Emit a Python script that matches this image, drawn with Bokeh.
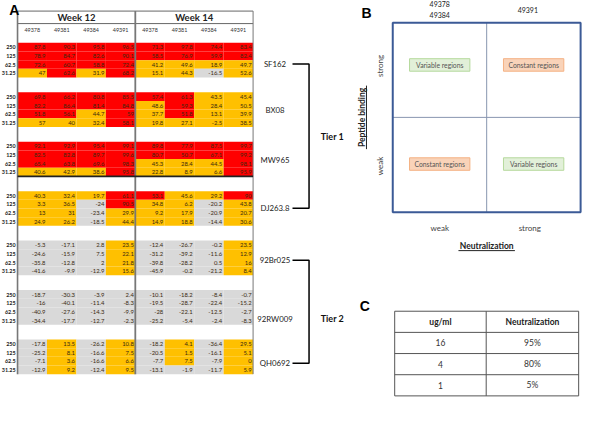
import math
from bokeh.plotting import figure
from bokeh.models import Range1d
from bokeh.core.properties import value
from bokeh.embed import file_html
from bokeh.resources import INLINE

# ---------------- data ----------------
strains = ["SF162", "BX08", "MW965", "DJ263.8", "92Br025", "92RW009", "QH0692"]
concs = ["250", "125", "62.5", "31.25"]
weeks = ["Week 12", "Week 14"]
sera = ["49378", "49381", "49384", "49391"]

sf162 = [[87.8, 90.3, 95.8, 96.5, 71.3, 97.8, 74.4, 83.4],
         [78.9, 84.7, 82.6, 90.1, 58.5, 76.9, 59.9, 82.4],
         [72.6, 60.7, 58.8, 72.4, 41.2, 49.6, 18.9, 49.7],
         [47, 62.6, 31.9, 68.2, 15.1, 44.3, -16.5, 52.6]]
sf162_lvl = ["RRRRRRRR", "RRRRRRRR", "RRRROOOO", "OROROOGO"]

bx08 = [[69.8, 66.2, 80.8, 85.5, 57.4, 61.3, 43.5, 45.4],
        [82.2, 86.4, 81.4, 84.8, 48.6, 59.3, 28.4, 50.5],
        [51.8, 56.1, 44.7, 59, 37.7, 51.8, 13.1, 39.9],
        [57, 40, 32.4, 58.1, 19.8, 27.1, -2.5, 38.5]]
bx08_lvl = ["RRRRRROO", "RRRROROO", "RRORORO O".replace(" ", ""), "OOOROOOO"]

mw965 = [[92.1, 92.9, 95.4, 99.1, 89.8, 77.9, 87.5, 99.7],
         [82.5, 82.8, 89.7, 99.6, 80.7, 50.7, 67.1, 99.2],
         [65.4, 63.8, 69.6, 98.3, 45.3, 28.4, 44.5, 98.1],
         [40.6, 42.9, 38.6, 95.8, 22.8, 8.9, 6.6, 95.9]]
mw965_lvl = ["RRRRRRRR", "RRRRRRRR", "RRRROOOR", "OOOROOOR"]

dj263 = [[40.3, 32.4, 19.7, 61.1, 53.1, 45.6, 29.2, 90],
         [3.3, 36.5, -24, 90.5, 34.8, 6.2, -20.2, 43.8],
         [13, 31, -23.4, 29.9, 9.2, 17.9, -20.9, 20.7],
         [24.9, 26.2, -18.5, 44.4, 14.9, 18.8, -14.4, 30.6]]
dj263_lvl = ["OOORROOR", "OOGROOGO", "OOGOOOGO", "OOGOOOGO"]

br025 = [[-5.3, -17.1, 2.8, 23.5, -12.4, -26.7, -0.2, 23.5],
         [-24.6, -15.9, 7.5, 22.1, -31.2, -39.2, -11.6, 12.9],
         [-35.8, -12.8, 2, 21.8, -39.8, -28.2, 0.5, 16],
         [-41.6, -9.9, -12.9, 15.6, -45.9, -0.2, -21.2, 8.4]]
br025_lvl = ["GGGOGGGO", "GGGOGGGO", "GGGOGGGO", "GGGOGGGO"]

rw009 = [[-18.7, -30.3, -3.9, 2.4, -10.1, -18.2, -8.4, -0.7],
         [-16, -40.1, -11.4, -8.3, -19.5, -28.7, -22.4, -15.2],
         [-40.9, -27.6, -14.3, -9.9, -28, -22.1, -12.5, -2.7],
         [-34.4, -17.7, -12.7, -2.3, -25.2, -5.4, -2.4, -8.3]]
rw009_lvl = ["GGGGGGGG", "GGGGGGGG", "GGGGGGGG", "GGGGGGGG"]

qh0692 = [[-17.8, 13.5, -26.2, 10.8, -18.2, 4.1, -36.4, 29.5],
          [-25.2, 8.1, -16.6, 7.5, -20.5, 1.5, -16.1, 5.1],
          [-7.1, 3.6, -16.6, 6.6, -7.7, 7.5, -7.9, 0],
          [-12.9, 9.2, -12.4, 9.5, -13.1, -1.9, -11.7, 5.9]]
qh0692_lvl = ["GOGOGOGO", "GOGOGOGO", "GOGOGOGO", "GOGOGGGO"]

blocks = [sf162, bx08, mw965, dj263, br025, rw009, qh0692]
block_lvls = [sf162_lvl, bx08_lvl, mw965_lvl, dj263_lvl, br025_lvl, rw009_lvl, qh0692_lvl]
tiers = ["Tier 1", "Tier 2"]
tier_members = [["SF162", "DJ263.8"], ["92Br025", "QH0692"]]

# panel B
b_x_levels = ["weak", "strong"]
b_y_levels = ["strong", "weak"]
b_quadrants = [["Variable regions", "Constant regions"], ["Constant regions", "Variable regions"]]
b_xlabel = "Neutralization"
b_ylabel = "Peptide binding"

# panel C
c_header = ["ug/ml", "Neutralization"]
c_conc = ["16", "4", "1"]
c_neut = ["95%", "80%", "5%"]

# ---------------- style / layout ----------------
FONT = value("Lato")
COL = {"R": "#FF0000", "O": "#FFC000", "G": "#D9D9D9"}
X0, CW = 17.5, 30.25
TOP, WEEK_LINE, ID_Y = 11, 24, 31
Y0, RH, GAP = 44, 9.0, 15.4
PITCH = 4 * RH + GAP
label_y = [66, 114, 166, 216, 270, 331, 377]
LABEL_X = 282

p = figure(width=584, height=405, x_range=Range1d(0, 600), y_range=Range1d(421, 0),
           output_backend="svg", toolbar_location=None, tools="", min_border=0)
p.axis.visible = False
p.grid.visible = False
p.outline_line_color = None
p.background_fill_color = "white"
p.border_fill_color = "white"

# ---------------- panel A ----------------
lefts, rights, tops, bottoms, fills = [], [], [], [], []
tx, ty, tt = [], [], []
for k, (vals, lv) in enumerate(zip(blocks, block_lvls)):
    for r in range(4):
        yt = Y0 + k * PITCH + r * RH
        for c in range(8):
            xl = X0 + c * CW
            lefts.append(xl); rights.append(xl + CW)
            tops.append(yt); bottoms.append(yt + RH)
            fills.append(COL[lv[r][c]])
            tx.append(xl + CW - 1.5); ty.append(yt + RH / 2 + 0.3)
            tt.append(f"{vals[r][c]:g}")
p.quad(left=lefts, right=rights, top=tops, bottom=bottoms, fill_color=fills, line_color=None)
p.text(x=tx, y=ty, text=tt, text_align="right", text_baseline="middle",
       text_font_size="5.9px", text_font=FONT, text_color="#3a2a10")

# row labels
rx, ry, rt = [], [], []
for k in range(len(strains)):
    for r, cname in enumerate(concs):
        rx.append(X0 - 2); ry.append(Y0 + k * PITCH + r * RH + RH / 2 + 0.3); rt.append(cname)
p.text(x=rx, y=ry, text=rt, text_align="right", text_baseline="middle",
       text_font_size="5.4px", text_font=FONT, text_color="#222", text_font_style="bold")

# header
XR = X0 + 8 * CW
XM = X0 + 4 * CW
for w, wk in enumerate(weeks):
    p.text(x=[X0 + (4 * w + 2) * CW], y=[(TOP + WEEK_LINE) / 2 + 0.5], text=[wk], text_align="center",
           text_baseline="middle", text_font_size="9.5px", text_font=FONT, text_color="#222",
           text_font_style="bold")
    p.text(x=[X0 + (4 * w + i + 0.5) * CW for i in range(4)], y=[ID_Y] * 4, text=sera,
           text_align="center", text_baseline="middle", text_font_size="5.4px", text_font=FONT,
           text_color="#333")
bottom_table = Y0 + 6 * PITCH + 4 * RH
p.segment(x0=[X0, X0], y0=[TOP, WEEK_LINE], x1=[XR, XR], y1=[TOP, WEEK_LINE], line_color="#666", line_width=1)
p.segment(x0=[X0, XM, XR], y0=[TOP] * 3, x1=[X0, XM, XR], y1=[bottom_table] * 3,
          line_color="#777", line_width=[1.6, 1.8, 1])
yline = Y0 + 2 * PITCH + 4 * RH
p.segment(x0=[X0], y0=[yline], x1=[XR], y1=[yline], line_color="#222", line_width=1.6)

p.text(x=[9], y=[10], text=["A"], text_align="left", text_baseline="middle", text_font_size="14px",
       text_font=value("Liberation Sans"), text_font_style="bold", text_color="black")

# strain labels
p.text(x=[LABEL_X] * len(strains), y=label_y, text=strains, text_align="center", text_baseline="middle",
       text_font_size="7.8px", text_font=FONT, text_color="#222")

# tier brackets
for t, (name, members) in enumerate(zip(tiers, tier_members)):
    ya = label_y[strains.index(members[0])]
    yb = label_y[strains.index(members[1])]
    p.line(x=[300, 317, 317, 300], y=[ya, ya, yb, yb], line_color="black", line_width=1.5)
    p.text(x=[329], y=[(ya + yb) / 2 + (0 if t == 0 else 7)], text=[name], text_align="left",
           text_baseline="middle", text_font_size="9px", text_font=FONT, text_font_style="bold",
           text_color="#111")

# ---------------- panel B ----------------
BX0, BX1, BY0, BY1 = 403, 596, 23, 220
BXM, BYM = (BX0 + BX1) / 2, (BY0 + BY1) / 2
p.text(x=[371], y=[13], text=["B"], text_align="left", text_baseline="middle", text_font_size="14px",
       text_font=value("Liberation Sans"), text_font_style="bold", text_color="black")
p.segment(x0=[BXM, BX0], y0=[BY0, BYM], x1=[BXM, BX1], y1=[BY1, BYM], line_color="#8896b0", line_width=1)
p.quad(left=[BX0], right=[BX1], top=[BY0], bottom=[BY1], fill_color=None, line_color="#3b5a96", line_width=2)

qcx = [(BX0 + BXM) / 2, (BXM + BX1) / 2]
qcy = [67, 170]
for i in range(2):
    for j in range(2):
        lab = b_quadrants[i][j]
        green = lab.startswith("Variable")
        p.quad(left=[qcx[j] - 31], right=[qcx[j] + 31], top=[qcy[i] - 6.5], bottom=[qcy[i] + 6.5],
               fill_color="#E2F0D9" if green else "#F9D3B9", line_color="#B5D99C" if green else "#F4B183",
               line_width=1)
        p.text(x=[qcx[j]], y=[qcy[i] + 0.3], text=[lab], text_align="center", text_baseline="middle",
               text_font_size="6.8px", text_font=FONT, text_color="#555")

# top ids
p.text(x=[qcx[0]], y=[4], text=["49378"], text_align="center", text_baseline="middle",
       text_font_size="7px", text_font=FONT, text_color="#222")
p.text(x=[qcx[0]], y=[15], text=["49384"], text_align="center", text_baseline="middle",
       text_font_size="7px", text_font=FONT, text_color="#222")
p.text(x=[qcx[1] - 6], y=[9.5], text=["49391"], text_align="center", text_baseline="middle",
       text_font_size="7px", text_font=FONT, text_color="#222")

# axis level labels
p.text(x=[qcx[0], qcx[1] - 4], y=[236, 236], text=b_x_levels, text_align="center", text_baseline="middle",
       text_font_size="8px", text_font=FONT, text_color="#444")
p.text(x=[390, 390], y=[68, 172], text=b_y_levels, text_align="center", text_baseline="middle",
       angle=math.pi / 2, text_font_size="8px", text_font=FONT, text_color="#444")
p.text(x=[BXM], y=[255], text=[b_xlabel], text_align="center", text_baseline="middle",
       text_font_size="8.5px", text_font=FONT, text_font_style="bold", text_color="#222")
p.segment(x0=[BXM - 29], y0=[260], x1=[BXM + 29], y1=[260], line_color="#222", line_width=1)
p.text(x=[371], y=[BYM], text=[b_ylabel], text_align="center", text_baseline="middle", angle=math.pi / 2,
       text_font_size="8.5px", text_font=FONT, text_font_style="bold", text_color="#222")
p.segment(x0=[376], y0=[BYM - 33], x1=[376], y1=[BYM + 33], line_color="#222", line_width=1)

# ---------------- panel C ----------------
p.text(x=[369], y=[318], text=["C"], text_align="left", text_baseline="middle", text_font_size="14px",
       text_font=value("Liberation Sans"), text_font_style="bold", text_color="black")
CX0, CXM, CX1 = 405, 499, 594
CY0, CRH = 323, 22
nrow = len(c_conc) + 1
p.segment(x0=[CX0] * (nrow + 1), y0=[CY0 + i * CRH for i in range(nrow + 1)],
          x1=[CX1] * (nrow + 1), y1=[CY0 + i * CRH for i in range(nrow + 1)], line_color="#555", line_width=1)
p.segment(x0=[CX0, CXM, CX1], y0=[CY0] * 3, x1=[CX0, CXM, CX1], y1=[CY0 + nrow * CRH] * 3,
          line_color="#555", line_width=1)
p.text(x=[(CX0 + CXM) / 2, (CXM + CX1) / 2], y=[CY0 + CRH / 2] * 2, text=c_header, text_align="center",
       text_baseline="middle", text_font_size="8.5px", text_font=FONT, text_font_style="bold", text_color="#222")
p.text(x=[(CX0 + CXM) / 2] * 3, y=[CY0 + (i + 1.5) * CRH for i in range(3)], text=c_conc, text_align="center",
       text_baseline="middle", text_font_size="8.5px", text_font=FONT, text_color="#333")
p.text(x=[(CXM + CX1) / 2] * 3, y=[CY0 + (i + 1.5) * CRH for i in range(3)], text=c_neut, text_align="center",
       text_baseline="middle", text_font_size="8.5px", text_font=FONT, text_color="#333")

open("out.html", "w").write(file_html(p, INLINE))
